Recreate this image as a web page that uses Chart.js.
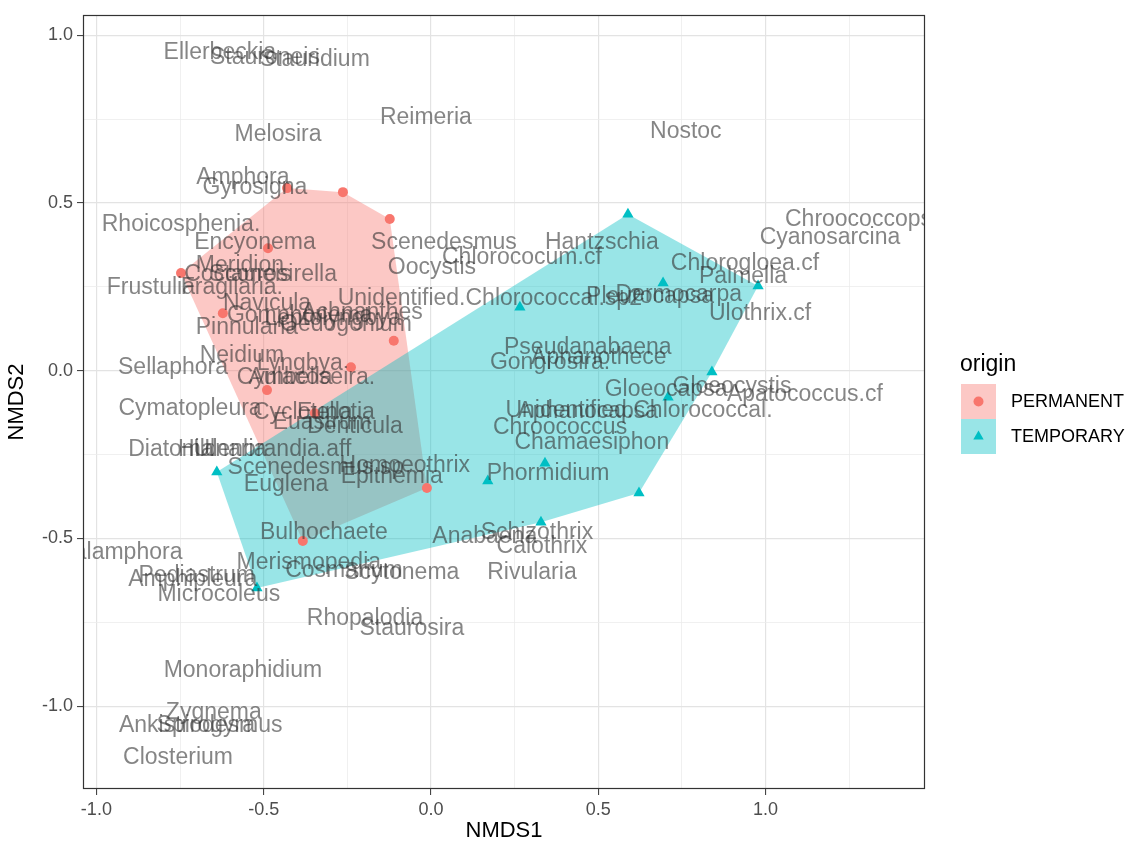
<!DOCTYPE html>
<html>
<head>
<meta charset="utf-8">
<script src="https://cdn.jsdelivr.net/npm/chart.js@4.4.0/dist/chart.umd.min.js"></script>
<style>
  body { margin: 0; background: #fff; }
  #wrap { width: 1129px; height: 848px; }
</style>
</head>
<body>
<div id="wrap"><canvas id="nmds" width="1129" height="848"></canvas></div>
<script>
// site scores, PERMANENT ponds
const permX = [-0.430, -0.263, -0.123, -0.487, -0.747, -0.622, -0.111, -0.239, -0.490, -0.347, -0.012, -0.383];
const permY = [0.544, 0.532, 0.452, 0.365, 0.291, 0.171, 0.089, 0.010, -0.058, -0.127, -0.350, -0.508];
// site scores, TEMPORARY ponds
const tempX = [0.589, 0.694, 0.978, 0.266, 0.840, 0.709, 0.341, 0.170, 0.622, 0.329, -0.640, -0.520];
const tempY = [0.466, 0.261, 0.252, 0.189, -0.004, -0.079, -0.276, -0.329, -0.365, -0.452, -0.302, -0.648];

// species scores
const speciesNames = [
  'Ellerbeckia', 'Stauroneis', 'Stauridium', 'Melosira', 'Reimeria', 'Nostoc',
  'Amphora', 'Gyrosigna', 'Rhoicosphenia.', 'Encyonema', 'Scenedesmus', 'Hantzschia',
  'Chroococcopsis', 'Cyanosarcina', 'Chlorococum.cf', 'Chlorogloea.cf', 'Oocystis', 'Meridion',
  'Cocconeis', 'Staurosirella', 'Palmella', 'Frustulia', 'Fragilaria.', 'Dermocarpa',
  'Pleurocapsa', 'Unidentified.Chlorococcal.sp2', 'Leptolyngbya', 'Ulothrix.cf', 'Pinnularia', 'Oedogonium',
  'Navicula', 'Gomphonema', 'Achnanthes', 'Pseudanabaena', 'Aphanothece', 'Gongrosira.',
  'Neidium', 'Sellaphora', 'Lyngbya', 'Cymbella', 'Aulacoseira.', 'Gloeocapsa',
  'Gloeocystis', 'Apatococcus.cf', 'Cymatopleura', 'Unidentified.Chlorococcal.', 'Aphanocapsa', 'Chroococcus',
  'Chamaesiphon', 'Cyclotella', 'Eunotia', 'Euastrum', 'Denticula', 'Diatoma',
  'Hildenbrandia.aff', 'Ulnaria', 'Scenedesmus.sp', 'Homoeothrix', 'Phormidium', 'Epithemia',
  'Euglena', 'Bulhochaete', 'Schizothrix', 'Anabaena', 'Calothrix', 'Halamphora',
  'Merismopedia', 'Cosmarium', 'Scytonema', 'Rivularia', 'Pediastrum', 'Amphipleura',
  'Microcoleus', 'Rhopalodia', 'Staurosira', 'Monoraphidium', 'Zygnema', 'Ankistrodesmus',
  'Spirogyra', 'Closterium'
];
const speciesX = [
  -0.631, -0.496, -0.347, -0.457, -0.015, 0.762,
  -0.562, -0.526, -0.747, -0.526, 0.039, 0.511,
  1.303, 1.193, 0.272, 0.939, 0.003, -0.571,
  -0.577, -0.472, 0.933, -0.837, -0.595, 0.741,
  0.655, 0.176, -0.293, 0.984, -0.550, -0.254,
  -0.490, -0.392, -0.206, 0.469, 0.502, 0.356,
  -0.565, -0.771, -0.392, -0.437, -0.356, 0.703,
  0.900, 1.118, -0.720, 0.622, 0.469, 0.386,
  0.481, -0.383, -0.284, -0.326, -0.227, -0.777,
  -0.497, -0.601, -0.344, -0.078, 0.350, -0.117,
  -0.433, -0.320, 0.317, 0.161, 0.332, -0.930,
  -0.365, -0.260, -0.087, 0.302, -0.700, -0.712,
  -0.634, -0.197, -0.057, -0.562, -0.649, -0.688,
  -0.673, -0.756
];
const speciesY = [
  0.949, 0.934, 0.928, 0.702, 0.753, 0.711,
  0.574, 0.544, 0.434, 0.380, 0.380, 0.380,
  0.449, 0.395, 0.338, 0.320, 0.306, 0.314,
  0.285, 0.285, 0.279, 0.246, 0.246, 0.225,
  0.219, 0.216, 0.156, 0.171, 0.127, 0.136,
  0.201, 0.165, 0.174, 0.067, 0.040, 0.025,
  0.046, 0.010, 0.022, -0.022, -0.022, -0.058,
  -0.049, -0.073, -0.112, -0.118, -0.121, -0.171,
  -0.216, -0.125, -0.125, -0.156, -0.168, -0.237,
  -0.237, -0.237, -0.290, -0.282, -0.306, -0.317,
  -0.341, -0.484, -0.484, -0.496, -0.526, -0.544,
  -0.571, -0.595, -0.601, -0.601, -0.610, -0.624,
  -0.669, -0.738, -0.768, -0.893, -1.018, -1.057,
  -1.057, -1.153
];

// axis range, grid positions and labelled ticks
const xRange = [-1.040, 1.477];
const yRange = [-1.247, 1.060];
const xGrid = [-1.0, -0.75, -0.5, -0.25, 0.0, 0.25, 0.5, 0.75, 1.0, 1.25];
const yGrid = [-1.0, -0.75, -0.5, -0.25, 0.0, 0.25, 0.5, 0.75, 1.0];
const tickLabels = [-1.0, -0.5, 0.0, 0.5, 1.0];

const RED = '#F8766D', TEAL = '#00BFC4';
const RED_FILL = 'rgba(248,118,109,0.4)', TEAL_FILL = 'rgba(0,191,196,0.4)';
const FONT = '"Liberation Sans", Arial, sans-serif';

function toPoints(xs, ys) {
  return xs.map((x, i) => ({ x: x, y: ys[i] }));
}

// convex hull (monotone chain), closed back onto the first vertex
function hull(pts) {
  const p = pts.slice().sort((a, b) => a.x - b.x || a.y - b.y);
  const cross = (o, a, b) => (a.x - o.x) * (b.y - o.y) - (a.y - o.y) * (b.x - o.x);
  const lower = [], upper = [];
  for (const q of p) {
    while (lower.length >= 2 && cross(lower[lower.length - 2], lower[lower.length - 1], q) <= 0) lower.pop();
    lower.push(q);
  }
  for (let i = p.length - 1; i >= 0; i--) {
    const q = p[i];
    while (upper.length >= 2 && cross(upper[upper.length - 2], upper[upper.length - 1], q) <= 0) upper.pop();
    upper.push(q);
  }
  upper.pop(); lower.pop();
  const h = lower.concat(upper);
  h.push(h[0]);
  return h;
}

const isMajor = v => tickLabels.some(t => Math.abs(t - v) < 1e-6);

const permPts = toPoints(permX, permY);
const tempPts = toPoints(tempX, tempY);

// species names on top of everything, clipped to the panel
const speciesLabels = {
  id: 'speciesLabels',
  afterDatasetsDraw(chart) {
    const { ctx, chartArea: a, scales } = chart;
    ctx.save();
    ctx.beginPath();
    ctx.rect(a.left, a.top, a.right - a.left, a.bottom - a.top);
    ctx.clip();
    ctx.font = '23px ' + FONT;
    ctx.textAlign = 'center';
    ctx.textBaseline = 'middle';
    ctx.fillStyle = 'rgba(51,51,51,0.6)';
    speciesNames.forEach((name, i) => {
      ctx.fillText(name, scales.x.getPixelForValue(speciesX[i]), scales.y.getPixelForValue(speciesY[i]));
    });
    ctx.restore();
  }
};

// panel border and the origin legend
const panelAndLegend = {
  id: 'panelAndLegend',
  afterDraw(chart) {
    const { ctx, chartArea: a } = chart;
    ctx.save();
    ctx.strokeStyle = '#333333';
    ctx.lineWidth = 1.2;
    ctx.strokeRect(a.left + 0.5, a.top + 0.5, a.right - a.left - 1, a.bottom - a.top - 1);

    ctx.fillStyle = '#000';
    ctx.textAlign = 'left';
    ctx.textBaseline = 'middle';
    ctx.font = '23px ' + FONT;
    ctx.fillText('origin', 960, 365);

    const keys = [
      { label: 'PERMANENT', fill: RED_FILL, color: RED, shape: 'circle', y: 384 },
      { label: 'TEMPORARY', fill: TEAL_FILL, color: TEAL, shape: 'triangle', y: 419 }
    ];
    keys.forEach(k => {
      ctx.fillStyle = k.fill;
      ctx.fillRect(961, k.y, 35, 35);
      ctx.fillStyle = k.color;
      const cx = 978.5, cy = k.y + 17.5;
      ctx.beginPath();
      if (k.shape === 'circle') {
        ctx.arc(cx, cy, 5, 0, Math.PI * 2);
      } else {
        ctx.moveTo(cx, cy - 6);
        ctx.lineTo(cx + 5.2, cy + 3);
        ctx.lineTo(cx - 5.2, cy + 3);
        ctx.closePath();
      }
      ctx.fill();
      ctx.fillStyle = '#000';
      ctx.font = '18px ' + FONT;
      ctx.fillText(k.label, 1011, cy + 1);
    });
    ctx.restore();
  }
};

function axis(range, grid, fitSize, horizontal, title) {
  return {
    type: 'linear',
    min: range[0],
    max: range[1],
    afterBuildTicks: s => { s.ticks = grid.map(v => ({ value: v })); },
    afterFit: s => { if (horizontal) s.height = fitSize; else s.width = fitSize; },
    ticks: {
      autoSkip: false,
      maxRotation: 0,
      padding: 4,
      color: '#4D4D4D',
      font: { family: FONT, size: 18 },
      callback: v => isMajor(v) ? v.toFixed(1) : ''
    },
    grid: {
      color: c => isMajor(c.tick.value) ? '#E3E3E3' : '#ECECEC',
      lineWidth: c => isMajor(c.tick.value) ? 1.2 : 0.8,
      tickColor: c => isMajor(c.tick.value) ? '#333333' : 'rgba(0,0,0,0)',
      tickLength: 6,
      tickWidth: 1
    },
    border: { display: false },
    title: {
      display: true,
      text: title,
      color: '#000',
      font: { family: FONT, size: 22 },
      padding: horizontal ? { top: 0, bottom: 4 } : { top: 4, bottom: 0 }
    }
  };
}

new Chart(document.getElementById('nmds'), {
  type: 'scatter',
  data: {
    datasets: [
      { label: 'PERMANENT', data: permPts, pointStyle: 'circle', pointRadius: 5,
        backgroundColor: RED, borderColor: RED, borderWidth: 0, order: 0 },
      { label: 'TEMPORARY', data: tempPts, pointStyle: 'triangle', pointRadius: 6.5,
        backgroundColor: TEAL, borderColor: TEAL, borderWidth: 0, order: 0 },
      { label: 'hull TEMPORARY', data: hull(tempPts), showLine: true, fill: 'shape',
        backgroundColor: TEAL_FILL, borderWidth: 0, pointRadius: 0, tension: 0, order: 1 },
      { label: 'hull PERMANENT', data: hull(permPts), showLine: true, fill: 'shape',
        backgroundColor: RED_FILL, borderWidth: 0, pointRadius: 0, tension: 0, order: 2 }
    ]
  },
  options: {
    responsive: false,
    animation: false,
    events: [],
    layout: { padding: { left: 0, right: 204, top: 15, bottom: 0 } },
    plugins: {
      legend: { display: false },
      tooltip: { enabled: false }
    },
    scales: {
      x: axis(xRange, xGrid, 59, true, 'NMDS1'),
      y: axis(yRange, yGrid, 83, false, 'NMDS2')
    }
  },
  plugins: [speciesLabels, panelAndLegend]
});
</script>
</body>
</html>
